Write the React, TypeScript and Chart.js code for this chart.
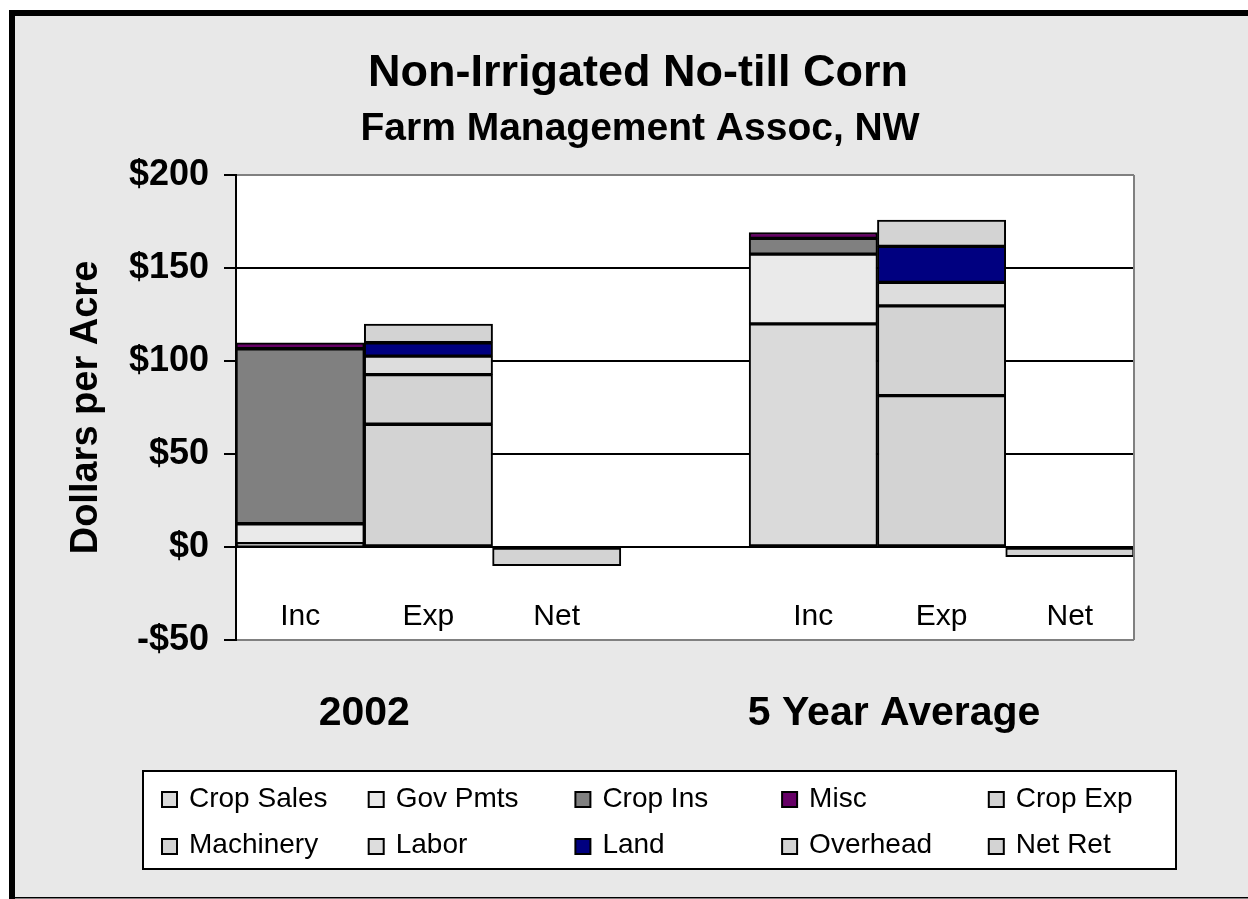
import React, { useEffect, useRef } from "react";
import { Chart, registerables } from "chart.js";

Chart.register(...registerables);

// ---------- data ----------
const categories = ["Inc", "Exp", "Net", "", "Inc", "Exp", "Net"];
const groupLabels = ["2002", "5 Year Average"];
const groupCenters = [0.5, 4.63]; // in category units

const cropSales = [1.8, null, null, null, 120.0, null, null];
const govPmts = [10.7, null, null, null, 37.5, null, null];
const cropIns = [94.1, null, null, null, 8.4, null, null];
const misc = [3.2, null, null, null, 3.2, null, null];
const cropExp = [null, 66.0, null, null, null, 81.4, null];
const machinery = [null, 26.7, null, null, null, 48.2, null];
const labor = [null, 9.9, null, null, null, 12.7, null];
const land = [null, 7.2, null, null, null, 19.3, null];
const overhead = [null, 10.0, null, null, null, 14.1, null];
const netRet = [null, null, -10.0, null, null, null, -5.2];

const seriesNames = [
  "Crop Sales", "Gov Pmts", "Crop Ins", "Misc", "Crop Exp",
  "Machinery", "Labor", "Land", "Overhead", "Net Ret",
];
const seriesValues = [cropSales, govPmts, cropIns, misc, cropExp, machinery, labor, land, overhead, netRet];
const seriesColors = [
  "#dadada", "#eaeaea", "#808080", "#660066", "#d3d3d3",
  "#d3d3d3", "#dddddd", "#000080", "#d3d3d3", "#d3d3d3",
];

const yMin = -50;
const yMax = 200;
const yStep = 50;

const titleText = "Non-Irrigated No-till Corn";
const subtitleText = "Farm Management Assoc, NW";
const yTitleText = "Dollars per Acre";

const FONT = '"Liberation Sans", Arial, Helvetica, sans-serif';

const decorPlugin = {
  id: "decor",
  beforeDraw(chart: any) {
    const ctx = chart.ctx;
    const W = chart.width;
    const H = chart.height;
    const a = chart.chartArea;
    ctx.save();
    ctx.fillStyle = "#ffffff";
    ctx.fillRect(0, 0, W, H);
    ctx.fillStyle = "#e8e8e8";
    ctx.fillRect(15, 16, W - 15, H - 18);
    ctx.fillStyle = "#000000";
    ctx.fillRect(9, 10, W - 9, 6);
    ctx.fillRect(9, 10, 6, H - 10);
    ctx.fillRect(9, H - 2, W - 9, 1.5);
    ctx.fillStyle = "#ffffff";
    ctx.fillRect(a.left, a.top, a.right - a.left, a.bottom - a.top);
    ctx.restore();
  },
  afterDatasetsDraw(chart: any) {
    const ctx = chart.ctx;
    const a = chart.chartArea;
    const xs = chart.scales.x;
    ctx.save();
    ctx.strokeStyle = "#808080";
    ctx.lineWidth = 2;
    ctx.beginPath();
    ctx.moveTo(a.right, a.top);
    ctx.lineTo(a.right, a.bottom);
    ctx.stroke();

    ctx.fillStyle = "#000";
    ctx.font = `30px ${FONT}`;
    ctx.textAlign = "center";
    ctx.textBaseline = "alphabetic";
    categories.forEach((c, i) => {
      if (c) ctx.fillText(c, xs.getPixelForValue(i), 625);
    });
    ctx.font = `bold 41px ${FONT}`;
    groupLabels.forEach((g, i) => {
      ctx.fillText(g, xs.getPixelForValue(groupCenters[i]), 725);
    });
    ctx.font = `bold 45px ${FONT}`;
    ctx.fillText(titleText, 638, 86);
    ctx.font = `bold 39px ${FONT}`;
    ctx.fillText(subtitleText, 640, 140);
    ctx.save();
    ctx.translate(97, (a.top + a.bottom) / 2);
    ctx.rotate(-Math.PI / 2);
    ctx.font = `bold 38px ${FONT}`;
    ctx.fillText(yTitleText, 0, 0);
    ctx.restore();

    const lx = 143, ly = 771, lw = 1033, lh = 98;
    ctx.fillStyle = "#fff";
    ctx.fillRect(lx, ly, lw, lh);
    ctx.strokeStyle = "#000";
    ctx.lineWidth = 2;
    ctx.strokeRect(lx, ly, lw, lh);
    ctx.font = `28px ${FONT}`;
    ctx.textAlign = "left";
    chart.data.datasets.forEach((ds: any, i: number) => {
      const col = i % 5;
      const row = Math.floor(i / 5);
      const sx = 162 + col * 206.7;
      const sy = 792 + row * 47;
      ctx.fillStyle = ds.backgroundColor;
      ctx.fillRect(sx, sy, 15, 15);
      ctx.strokeStyle = "#000";
      ctx.lineWidth = 2;
      ctx.strokeRect(sx, sy, 15, 15);
      ctx.fillStyle = "#000";
      ctx.fillText(ds.label, sx + 27, 807 + row * 46);
    });
    ctx.restore();
  },
};

export default function App() {
  const ref = useRef<HTMLCanvasElement | null>(null);
  useEffect(() => {
    if (!ref.current) return;
    const chart = new Chart(ref.current, {
      type: "bar",
      data: {
        labels: categories,
        datasets: seriesNames.map((name, i) => ({
          label: name,
          data: seriesValues[i],
          backgroundColor: seriesColors[i],
          borderColor: "#000",
          borderWidth: 2,
          borderSkipped: false,
          barPercentage: 1,
          categoryPercentage: 1,
        })),
      },
      options: {
        responsive: false,
        animation: false,
        devicePixelRatio: 1,
        layout: { padding: { left: 0, top: 175, right: 114, bottom: 259 } },
        plugins: {
          legend: { display: false },
          title: { display: false },
          tooltip: { enabled: false },
        },
        scales: {
          x: {
            stacked: true,
            display: false,
          },
          y: {
            stacked: true,
            min: yMin,
            max: yMax,
            afterFit: (s: any) => {
              s.width = 236;
            },
            ticks: {
              stepSize: yStep,
              color: "#000",
              padding: 15,
              font: { family: FONT, size: 36, weight: "bold" },
              callback: (v: any) => (v < 0 ? "-$" : "$") + Math.abs(v),
            },
            grid: {
              color: (c: any) =>
                c.tick && (c.tick.value === yMax || c.tick.value === yMin) ? "#808080" : "#000",
              lineWidth: 2,
              tickColor: "#000",
              tickLength: 12,
            },
            border: { display: true, color: "#000", width: 2 },
          },
        },
      },
      plugins: [decorPlugin],
    } as any);
    return () => chart.destroy();
  }, []);
  return (
    <div style={{ position: "fixed", left: 0, top: 0 }}>
      <canvas ref={ref} width={1248} height={899} style={{ display: "block" }} />
    </div>
  );
}
